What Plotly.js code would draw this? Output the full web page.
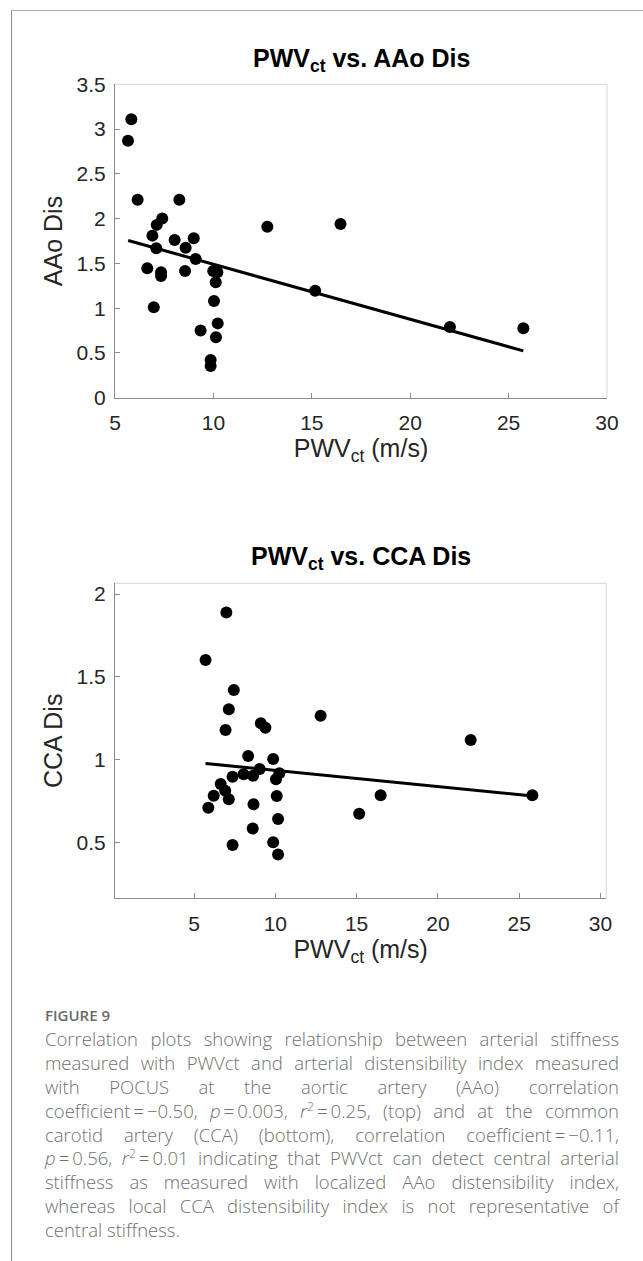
<!DOCTYPE html>
<html>
<head>
<meta charset="utf-8">
<script src="https://cdn.plot.ly/plotly-3.0.1.min.js"></script>
<style>
  html, body { margin: 0; padding: 0; background: #fff; }
  #page { position: relative; width: 643px; height: 1261px; overflow: hidden; background: #fff; }
  #frame { position: absolute; left: 11px; top: 10px; width: 640px; height: 1260px;
           border-left: 1px solid #8a8a8a; border-top: 1px solid #b0b0b0; }
  #chart { position: absolute; left: 0; top: 0; width: 643px; height: 1000px; }
  #figlabel { position: absolute; left: 45px; top: 1005px; font-family: "Open Sans", "Noto Sans", sans-serif;
              font-weight: 600; font-size: 15px; color: #6a6a6a; }
  #caption { position: absolute; left: 45px; top: 1027px; width: 574px; font-family: "Open Sans", "Noto Sans", sans-serif;
             font-weight: 300; font-size: 18.5px; line-height: 23.9px; color: #707070; }
  #caption .ln { height: 23.9px; text-align: justify; text-align-last: justify; white-space: nowrap; }
  #caption .last { text-align: left; text-align-last: left; }
  #caption sup { font-size: 0.65em; line-height: 0; vertical-align: 0.6em; }
</style>
</head>
<body>
<div id="page">
  <div id="frame"></div>
  <div id="chart"></div>
  <div id="figlabel">FIGURE 9</div>
  <div id="caption">
    <div class="ln">Correlation plots showing relationship between arterial stiffness</div>
    <div class="ln">measured with PWVct and arterial distensibility index measured</div>
    <div class="ln">with POCUS at the aortic artery (AAo) correlation</div>
    <div class="ln">coefficient&#8201;=&#8201;−0.50, <i>p</i>&#8201;=&#8201;0.003, <i>r</i><sup>2</sup>&#8201;=&#8201;0.25, (top) and at the common</div>
    <div class="ln">carotid artery (CCA) (bottom), correlation coefficient&#8201;=&#8201;−0.11,</div>
    <div class="ln"><i>p</i>&#8201;=&#8201;0.56, <i>r</i><sup>2</sup>&#8201;=&#8201;0.01 indicating that PWVct can detect central arterial</div>
    <div class="ln">stiffness as measured with localized AAo distensibility index,</div>
    <div class="ln">whereas local CCA distensibility index is not representative of</div>
    <div class="ln last">central stiffness.</div>
  </div>
</div>
<script>
// ---- Data: top panel (PWVct vs. AAo Dis) ----
const aaoPwv = [5.83, 5.66, 6.15, 8.27, 7.40, 7.12, 6.90, 7.10, 8.03, 9.00, 8.59, 9.10, 6.64, 7.34, 7.34, 8.56,
                9.99, 10.20, 10.12, 6.97, 10.03, 10.22, 9.35, 10.13, 9.86, 9.86, 12.74, 16.46, 15.17, 22.02, 25.75];
const aaoDis = [3.11, 2.87, 2.21, 2.21, 2.00, 1.93, 1.81, 1.67, 1.76, 1.78, 1.675, 1.55, 1.445, 1.40, 1.36, 1.415,
                1.415, 1.40, 1.29, 1.01, 1.08, 0.83, 0.75, 0.675, 0.42, 0.355, 1.91, 1.94, 1.195, 0.79, 0.775];
const aaoFitX = [5.67, 25.75];
const aaoFitY = [1.756, 0.523];

// ---- Data: bottom panel (PWVct vs. CCA Dis) ----
const ccaPwv = [5.71, 6.99, 7.45, 7.14, 6.94, 9.11, 9.39, 12.79, 22.02, 8.33, 9.87, 7.37, 8.05, 8.63, 9.04, 10.25,
                10.04, 6.64, 6.92, 6.21, 7.14, 5.88, 8.66, 10.09, 16.48, 25.81, 15.16, 10.17, 8.61, 7.37, 9.87, 10.17];
const ccaDis = [1.602, 1.888, 1.420, 1.304, 1.179, 1.219, 1.193, 1.265, 1.118, 1.022, 1.004, 0.897, 0.911, 0.903, 0.943, 0.917,
                0.881, 0.852, 0.812, 0.782, 0.760, 0.709, 0.730, 0.780, 0.784, 0.784, 0.673, 0.641, 0.583, 0.484, 0.500, 0.427];
const ccaFitX = [5.71, 25.81];
const ccaFitY = [0.977, 0.780];

// ---- Ticks ----
const xTicks = [5, 10, 15, 20, 25, 30];
const yTicksTop = [0, 0.5, 1, 1.5, 2, 2.5, 3, 3.5];
const yTicksBot = [0.5, 1, 1.5, 2];

const W = 643, H = 1000;
const FONT = '"Liberation Sans", Arial, Helvetica, sans-serif';
const tickFont = { family: FONT, size: 21, color: '#262626' };
const axTitleFont = { family: FONT, size: 25, color: '#262626' };

function xAxis(domain, range, anchor) {
  return {
    domain: domain, range: range, anchor: anchor,
    tickmode: 'array', tickvals: xTicks, ticktext: xTicks.map(String),
    ticks: 'inside', ticklen: 5, tickcolor: '#8c8c8c', tickwidth: 1,
    showline: true, linecolor: '#8c8c8c', linewidth: 1,
    showgrid: false, zeroline: false, tickfont: tickFont, ticklabelstandoff: 6,
    title: { text: 'PWV<sub>ct</sub> (m/s)', font: axTitleFont, standoff: 6 }
  };
}
function yAxis(domain, range, anchor, ticks, label) {
  return {
    domain: domain, range: range, anchor: anchor,
    tickmode: 'array', tickvals: ticks, ticktext: ticks.map(String),
    ticks: 'inside', ticklen: 5, tickcolor: '#8c8c8c', tickwidth: 1,
    showline: true, linecolor: '#8c8c8c', linewidth: 1,
    showgrid: false, zeroline: false, tickfont: tickFont, ticklabelstandoff: 4,
    title: { text: label, font: axTitleFont, standoff: 6 }
  };
}

const traces = [
  { x: aaoPwv, y: aaoDis, xaxis: 'x', yaxis: 'y', type: 'scatter', mode: 'markers',
    marker: { size: 12, color: '#000' }, hoverinfo: 'x+y' },
  { x: aaoFitX, y: aaoFitY, xaxis: 'x', yaxis: 'y', type: 'scatter', mode: 'lines',
    line: { color: '#000', width: 3 } },
  { x: ccaPwv, y: ccaDis, xaxis: 'x2', yaxis: 'y2', type: 'scatter', mode: 'markers',
    marker: { size: 12, color: '#000' }, hoverinfo: 'x+y' },
  { x: ccaFitX, y: ccaFitY, xaxis: 'x2', yaxis: 'y2', type: 'scatter', mode: 'lines',
    line: { color: '#000', width: 3 } }
];

function boxLines(xr, yr) {
  const st = { color: '#d6d6d6', width: 1 };
  return [
    { type: 'line', xref: xr + ' domain', yref: yr + ' domain', x0: 0, x1: 1, y0: 1, y1: 1, line: st },
    { type: 'line', xref: xr + ' domain', yref: yr + ' domain', x0: 1, x1: 1, y0: 0, y1: 1, line: st }
  ];
}

const layout = {
  width: W, height: H,
  margin: { l: 0, r: 0, t: 0, b: 0 },
  paper_bgcolor: 'rgba(0,0,0,0)', plot_bgcolor: '#fff',
  showlegend: false,
  xaxis: xAxis([115 / W, 607 / W], [5, 30], 'y'),
  yaxis: yAxis([1 - 397.7 / H, 1 - 84.3 / H], [0, 3.5], 'x', yTicksTop, 'AAo Dis'),
  xaxis2: xAxis([115 / W, 606.3 / W], [0.14, 30.36], 'y2'),
  yaxis2: yAxis([1 - 898.3 / H, 1 - 583.3 / H], [0.162, 2.065], 'x2', yTicksBot, 'CCA Dis'),
  shapes: boxLines('x', 'y').concat(boxLines('x2', 'y2')),
  annotations: [
    { text: '<b>PWV<sub>ct</sub> vs. AAo Dis</b>', xref: 'paper', yref: 'paper',
      x: 361 / W, y: 1 - 60 / H, xanchor: 'center', yanchor: 'middle', showarrow: false,
      font: { family: FONT, size: 25, color: '#000' } },
    { text: '<b>PWV<sub>ct</sub> vs. CCA Dis</b>', xref: 'paper', yref: 'paper',
      x: 361 / W, y: 1 - 558 / H, xanchor: 'center', yanchor: 'middle', showarrow: false,
      font: { family: FONT, size: 25, color: '#000' } }
  ]
};

Plotly.newPlot('chart', traces, layout, { displayModeBar: false, staticPlot: true });
</script>
</body>
</html>
